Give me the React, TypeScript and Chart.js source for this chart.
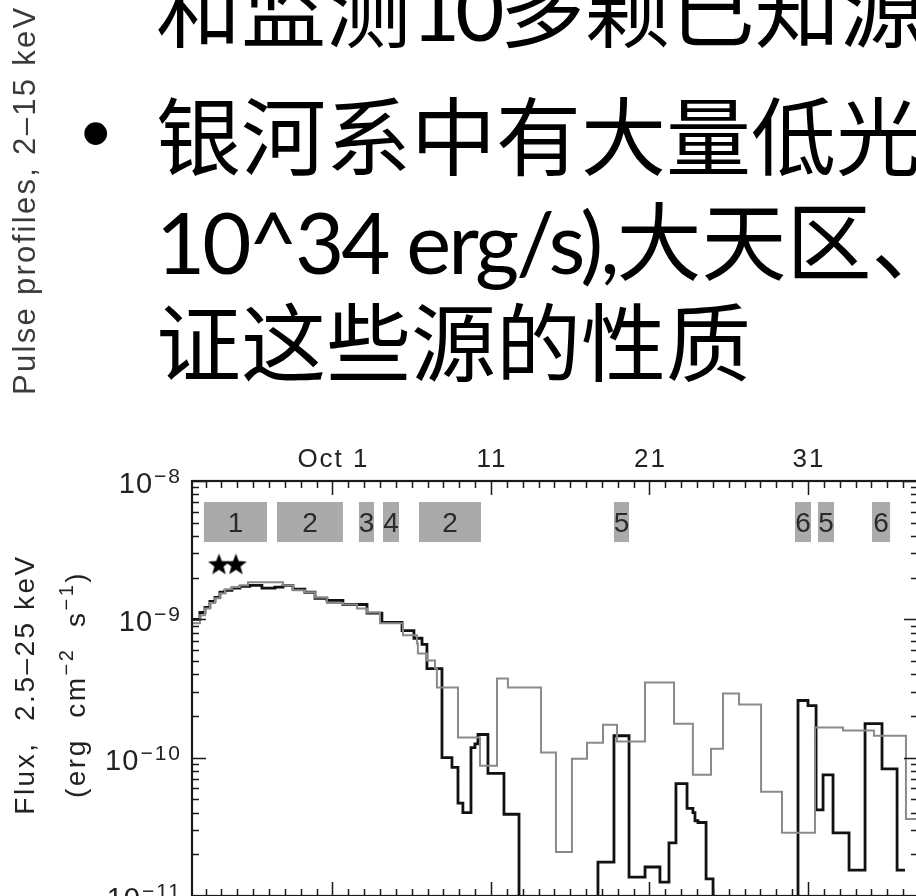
import React, { useEffect, useRef } from "react";
import { Chart, registerables } from "chart.js";

Chart.register(...registerables);

// ---- data (days: Oct 1 = 1) ----
const blackDays = [
  -7.86, -7.36, -7.04, -6.73, -6.41, -6.1, -5.78, -5.34, -4.84, -4.21, -3.45, -2.63, -2.12, -1.49,
  -0.74, -0.1, 0.65, 1.66, 3.18, 4.12, 5.39, 6.14, 6.65, 6.96, 7.91, 8.54, 8.92, 9.23, 9.74, 9.99,
  10.18, 10.81, 11.82, 12.77, 17.75, 18.76, 19.71, 20.72, 21.66, 22.23, 22.67, 23.37, 23.74, 23.87,
  24.06, 24.57, 25.01, 30.37, 31.0, 31.51, 31.95, 32.58, 33.59, 34.6, 35.67, 36.62, 37.12,
];
const blackFlux = [
  1.0e-9, 1.12e-9, 1.22e-9, 1.35e-9, 1.44e-9, 1.57e-9, 1.62e-9, 1.68e-9, 1.73e-9, 1.76e-9, 1.68e-9,
  1.71e-9, 1.76e-9, 1.65e-9, 1.57e-9, 1.42e-9, 1.37e-9, 1.28e-9, 1.11e-9, 9.5e-10, 8.3e-10, 7.3e-10,
  6.6e-10, 4.4e-10, 1.0e-10, 8.5e-11, 4.7e-11, 4.0e-11, 1.18e-10, 1.26e-10, 1.47e-10, 7.7e-11,
  3.9e-11, 1e-12, 1.76e-11, 1.44e-10, 1.37e-11, 1.62e-11, 1.26e-11, 2.42e-11, 6.5e-11, 4.3e-11,
  4.0e-11, 3.5e-11, 3.4e-11, 1.33e-11, 1e-12, 2.59e-10, 2.38e-10, 4.2e-11, 7.5e-11, 2.86e-11,
  1.54e-11, 1.76e-10, 8.3e-11, 1.54e-11, 1.54e-11,
];
const grayDays = [
  -7.86, -7.36, -7.04, -6.73, -6.41, -6.1, -5.78, -5.34, -4.84, -4.33, -2.12, -1.49, -0.74, -0.1,
  0.65, 1.66, 2.55, 3.18, 4.0, 5.45, 6.33, 6.39, 6.96, 7.47, 7.59, 8.92, 10.31, 11.38, 12.07, 14.16,
  15.1, 16.11, 17.06, 18.07, 18.95, 20.72, 22.55, 23.74, 24.88, 25.64, 26.65, 28.04, 29.36, 31.44,
  33.21, 35.16, 37.18, 37.94,
];
const grayFlux = [
  9.35e-10, 1.07e-9, 1.2e-9, 1.31e-9, 1.42e-9, 1.54e-9, 1.65e-9, 1.71e-9, 1.76e-9, 1.85e-9, 1.76e-9,
  1.62e-9, 1.57e-9, 1.44e-9, 1.31e-9, 1.28e-9, 1.2e-9, 1.12e-9, 9.35e-10, 7.66e-10, 6.7e-10,
  5.67e-10, 5.05e-10, 4.42e-10, 3.21e-10, 1.4e-10, 8.75e-11, 3.74e-10, 3.21e-10, 1.09e-10, 2.08e-11,
  9.84e-11, 1.28e-10, 1.73e-10, 1.31e-10, 3.49e-10, 1.76e-10, 7.53e-11, 1.16e-10, 2.91e-10,
  2.42e-10, 5.67e-11, 2.86e-11, 1.65e-10, 1.57e-10, 1.44e-10, 3.61e-11, 3.61e-11,
];
const boxStart = [-7.11, -2.5, 2.67, 4.19, 6.46, 18.76, 30.18, 31.63, 35.04];
const boxEnd = [-3.13, 1.66, 3.62, 5.2, 10.37, 19.71, 31.19, 32.64, 36.18];
const boxLabels = ["1", "2", "3", "4", "2", "5", "6", "5", "6"];
const boxFluxLow = 3.62e-9;
const boxFluxHigh = 7.05e-9;
const starDays = [-6.16, -5.09];
const starFlux = [2.51e-9, 2.51e-9];
const xTickDays = [1, 11, 21, 31];
const xTickLabels = ["Oct 1", "11", "21", "31"];
const yTickExponents = [-8, -9, -10, -11];
const xMin = -7.86;
const xMax = 37.94;
const yMin = 1e-11;
const yMax = 1e-8;

const LABEL_FONT = '"Liberation Sans", Arial, sans-serif';

function makeStar(size: number): HTMLCanvasElement {
  const c = document.createElement("canvas");
  c.width = size;
  c.height = size;
  const g = c.getContext("2d")!;
  const cx = size / 2, cy = size / 2 + 1, R = size / 2, r = R * 0.42;
  g.beginPath();
  for (let i = 0; i < 10; i++) {
    const rad = i % 2 === 0 ? R : r;
    const a = -Math.PI / 2 + (i * Math.PI) / 5;
    const px = cx + rad * Math.cos(a), py = cy + rad * Math.sin(a);
    if (i === 0) g.moveTo(px, py);
    else g.lineTo(px, py);
  }
  g.closePath();
  g.fillStyle = "#000";
  g.fill();
  return c;
}

type Run = { t: string; s: boolean };

function runsWidth(ctx: CanvasRenderingContext2D, runs: Run[], main: string, sup: string) {
  let w = 0;
  for (const r of runs) {
    ctx.font = r.s ? sup : main;
    w += ctx.measureText(r.t).width;
  }
  return w;
}

function drawRuns(ctx: CanvasRenderingContext2D, x: number, y: number, runs: Run[], main: string, sup: string, raise: number) {
  let cx = x;
  ctx.textAlign = "left";
  for (const r of runs) {
    ctx.font = r.s ? sup : main;
    ctx.fillText(r.t, cx, r.s ? y - raise : y);
    cx += ctx.measureText(r.t).width;
  }
}

const decor = {
  id: "decor",
  beforeDatasetsDraw(chart: any) {
    const { ctx, scales } = chart;
    const x = scales.x, y = scales.y;
    ctx.save();
    const yt = y.getPixelForValue(boxFluxHigh);
    const yb = y.getPixelForValue(boxFluxLow);
    ctx.fillStyle = "#aaaaaa";
    boxStart.forEach((s, i) => {
      const x0 = x.getPixelForValue(s);
      const x1 = x.getPixelForValue(boxEnd[i]);
      ctx.fillRect(x0, yt, x1 - x0, yb - yt);
    });
    ctx.fillStyle = "#2a2a2a";
    ctx.font = `28px ${LABEL_FONT}`;
    ctx.textAlign = "center";
    ctx.textBaseline = "alphabetic";
    boxLabels.forEach((t, i) => {
      const xc = (x.getPixelForValue(boxStart[i]) + x.getPixelForValue(boxEnd[i])) / 2;
      ctx.fillText(t, xc, (yt + yb) / 2 + 10);
    });
    ctx.restore();
  },
  afterDatasetsDraw(chart: any) {
    const { ctx, chartArea: a, scales } = chart;
    const x = scales.x, y = scales.y;
    ctx.save();
    ctx.strokeStyle = "#1a1a1a";
    ctx.lineWidth = 1.5;
    // x ticks
    for (let d = Math.ceil(xMin); d <= Math.floor(xMax); d++) {
      const px = Math.round(x.getPixelForValue(d)) + 0.5;
      const major = (d - 1) % 10 === 0;
      const len = major ? 14 : 7;
      ctx.beginPath();
      ctx.moveTo(px, a.top);
      ctx.lineTo(px, a.top + len);
      ctx.moveTo(px, a.bottom);
      ctx.lineTo(px, a.bottom - len);
      ctx.stroke();
    }
    // y ticks
    for (let e = -11; e <= -8; e++) {
      for (let m = 1; m <= 9; m++) {
        const v = m * Math.pow(10, e);
        if (v < yMin * 0.999 || v > yMax * 1.001) continue;
        const py = Math.round(y.getPixelForValue(v)) + 0.5;
        const len = m === 1 ? 14 : 7;
        ctx.beginPath();
        ctx.moveTo(a.left, py);
        ctx.lineTo(a.left + len, py);
        ctx.moveTo(a.right, py);
        ctx.lineTo(a.right - len, py);
        ctx.stroke();
      }
    }
    // frame
    ctx.lineWidth = 2.2;
    ctx.strokeRect(a.left, a.top, a.right - a.left, a.bottom - a.top);

    // x labels (top)
    ctx.fillStyle = "#222";
    ctx.font = `26px ${LABEL_FONT}`;
    (ctx as any).letterSpacing = "2px";
    ctx.textAlign = "center";
    ctx.textBaseline = "alphabetic";
    xTickDays.forEach((d, i) => {
      ctx.fillText(xTickLabels[i], x.getPixelForValue(d) + 1, a.top - 14);
    });

    // y labels
    const mainF = `29px ${LABEL_FONT}`;
    const supF = `21px ${LABEL_FONT}`;
    yTickExponents.forEach((e) => {
      const py = y.getPixelForValue(Math.pow(10, e));
      const sup = "\u2212" + String(-e);
      (ctx as any).letterSpacing = "2px";
      ctx.font = supF;
      const ws = ctx.measureText(sup).width;
      ctx.textAlign = "right";
      ctx.fillText(sup, a.left - 10, py + 2);
      (ctx as any).letterSpacing = "1px";
      ctx.font = mainF;
      ctx.fillText("10", a.left - 10 - ws - 1, py + 12);
    });

    // y titles
    const cy = (a.top + a.bottom) / 2 - 4;
    (ctx as any).letterSpacing = "2.5px";
    ctx.save();
    ctx.translate(34, cy);
    ctx.rotate(-Math.PI / 2);
    ctx.font = `28px ${LABEL_FONT}`;
    ctx.textAlign = "center";
    ctx.fillText("Flux,  2.5\u201325 keV", 0, 0);
    ctx.restore();

    ctx.save();
    ctx.translate(85, cy);
    ctx.rotate(-Math.PI / 2);
    const runs: Run[] = [
      { t: "(erg  cm", s: false },
      { t: "\u22122", s: true },
      { t: "  s", s: false },
      { t: "\u22121", s: true },
      { t: ")", s: false },
    ];
    const m = `28px ${LABEL_FONT}`, s = `20px ${LABEL_FONT}`;
    const w = runsWidth(ctx, runs, m, s);
    drawRuns(ctx, -w / 2, 0, runs, m, s, 12);
    ctx.restore();

    ctx.restore();
  },
};

const lineStyle: React.CSSProperties = {
  position: "absolute",
  left: 156,
  fontFamily: "Lato, 'Noto Sans CJK SC', sans-serif",
  fontSize: 85,
  lineHeight: "85px",
  whiteSpace: "nowrap",
  color: "#000",
};

const latin = (t: string, sp: number) => (
  <span style={{ letterSpacing: `${sp}px` }}>{t}</span>
);

export default function App() {
  const ref = useRef<HTMLCanvasElement>(null);
  useEffect(() => {
    const c = ref.current!;
    const star = makeStar(23);
    const chart = new Chart(c, {
      type: "line",
      data: {
        datasets: [
          {
            label: "gray",
            data: grayDays.map((d, i) => ({ x: d, y: grayFlux[i] })),
            borderColor: "#8a8a8a",
            borderWidth: 2,
            stepped: true,
            pointRadius: 0,
            fill: false,
          } as any,
          {
            label: "black",
            data: blackDays.map((d, i) => ({ x: d, y: blackFlux[i] })),
            borderColor: "#111",
            borderWidth: 2.8,
            stepped: true,
            pointRadius: 0,
            fill: false,
          } as any,
          {
            type: "scatter",
            label: "stars",
            data: starDays.map((d, i) => ({ x: d, y: starFlux[i] })),
            pointStyle: star,
            pointRadius: 11,
            showLine: false,
          } as any,
        ],
      },
      options: {
        responsive: false,
        animation: false,
        devicePixelRatio: 1,
        events: [],
        layout: { padding: { left: 192, top: 481, right: 12, bottom: 14 } },
        scales: {
          x: { type: "linear", min: xMin, max: xMax, display: false },
          y: { type: "logarithmic", min: yMin, max: yMax, display: false },
        },
        plugins: { legend: { display: false }, tooltip: { enabled: false } },
      },
      plugins: [decor],
    });
    return () => chart.destroy();
  }, []);

  return (
    <div style={{ position: "fixed", left: 0, top: 0, width: 916, height: 896, overflow: "hidden", background: "#fff" }}>
      <canvas ref={ref} width={930} height={910} style={{ position: "absolute", left: 0, top: 0, width: 930, height: 910 }} />
      <div
        style={{
          position: "absolute",
          left: 9,
          top: 395,
          transform: "rotate(-90deg)",
          transformOrigin: "0 0",
          fontFamily: LABEL_FONT,
          fontSize: 31,
          lineHeight: "31px",
          letterSpacing: "2.3px",
          whiteSpace: "nowrap",
          color: "#3a3a3a",
        }}
      >
        Pulse profiles, 2{"\u2013"}15 keV
      </div>
      <div style={{ ...lineStyle, top: -34 }}>
        和监测{latin("10", -5)}多颗已知源
      </div>
      <div
        style={{
          position: "absolute",
          left: 81,
          top: 90,
          fontFamily: LABEL_FONT,
          fontSize: 84,
          lineHeight: "84px",
          color: "#000",
        }}
      >
        •
      </div>
      <div style={{ ...lineStyle, top: 94 }}>银河系中有大量低光</div>
      <div style={{ ...lineStyle, top: 199 }}>
        {latin("10^34 erg/s),", -3)}大天区、
      </div>
      <div style={{ ...lineStyle, top: 300 }}>证这些源的性质</div>
    </div>
  );
}
